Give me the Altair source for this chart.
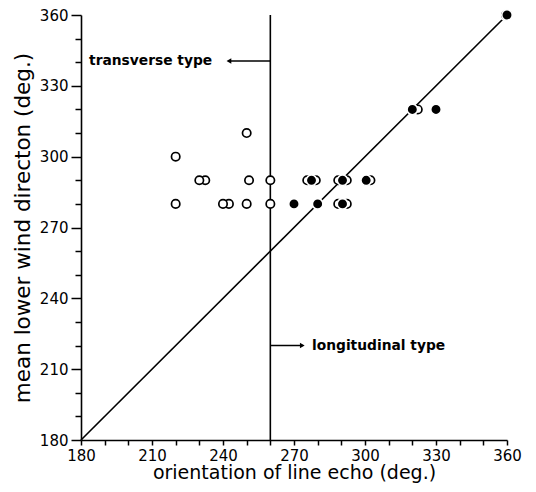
import altair as alt
import pandas as pd

# open circles (transverse type) -- back ones drawn first
open_back_x = [232.5, 242.5]
open_back_y = [290, 280]
open_x = [220, 220, 230, 240, 250, 251, 250, 260, 260]
open_y = [300, 280, 290, 280, 310, 290, 280, 290, 280]

# open outlines peeking behind filled points (overlapping cases)
flank_x = [275.6, 279.2, 288.7, 292.3, 288.7, 292.3, 302.3, 322.3]
flank_y = [290, 290, 290, 290, 280, 280, 290, 320]

# filled circles (longitudinal type)
filled_x = [270, 280, 290.5, 277.4, 290.5, 300.5, 320, 330, 359.3, 360]
filled_y = [280, 280, 280, 290, 290, 290, 320, 320, 360, 360]

ticks = list(range(180, 361, 10))
diag = [180, 360]

FONT = "DejaVu Sans"

xs = alt.Scale(domain=[180, 360], nice=False, zero=False)
ys = alt.Scale(domain=[180, 360], nice=False, zero=False)

tick_size_y = {"condition": {"test": "datum.value % 30 === 0", "value": 10}, "value": 6}

x_axis = alt.Axis(values=ticks, labelExpr="datum.value % 30 === 0 ? datum.label : ''",
                  title="orientation of line echo (deg.)", grid=False,
                  tickSize=5, tickWidth=1.5, tickColor="black",
                  domainColor="black", domainWidth=1.6,
                  labelFont=FONT, labelFontSize=15, labelColor="black", labelPadding=3,
                  labelOverlap=False,
                  titleFont=FONT, titleFontSize=19, titleFontWeight="normal", titleColor="black",
                  titlePadding=0, labelFlush=False)
y_axis = alt.Axis(values=ticks, labelExpr="datum.value % 30 === 0 ? datum.label : ''",
                  title="mean lower wind directon (deg.)", grid=False,
                  tickSize=tick_size_y, tickWidth=1.5, tickColor="black",
                  domainColor="black", domainWidth=1.6,
                  labelFont=FONT, labelFontSize=15, labelColor="black", labelPadding=3,
                  labelOverlap=False,
                  titleFont=FONT, titleFontSize=21.5, titleFontWeight="normal", titleColor="black",
                  titlePadding=5, labelFlush=False)

def X(field="x"):
    return alt.X(f"{field}:Q", scale=xs, axis=x_axis)

def Y(field="y"):
    return alt.Y(f"{field}:Q", scale=ys, axis=y_axis)

diag_df = pd.DataFrame({"x": diag, "y": diag})
base_line = alt.Chart(diag_df).mark_line(color="black", strokeWidth=1.6).encode(
    x=X(), y=Y())

vline = alt.Chart(pd.DataFrame({"x": [260], "y": [180], "y2": [360]})).mark_rule(
    color="black", strokeWidth=1.6).encode(x=X(), y=Y(), y2="y2:Q")

def circles(xv, yv, filled):
    df = pd.DataFrame({"x": xv, "y": yv})
    if filled:
        m = alt.Chart(df).mark_point(shape="circle", filled=True, fill="black",
                                     stroke="white", strokeWidth=1.6, size=110, opacity=1)
    else:
        m = alt.Chart(df).mark_point(shape="circle", filled=True, fill="white",
                                     stroke="black", strokeWidth=1.7, size=70, opacity=1)
    return m.encode(x=X(), y=Y())

ann_df = pd.DataFrame({
    "x": [183.4, 277.6],
    "y": [340.5, 220],
    "t": ["transverse type", "longitudinal type"],
})
ann = alt.Chart(ann_df).mark_text(align="left", baseline="middle", font=FONT,
                                  fontSize=13.8, fontWeight="bold", color="black").encode(
    x=X(), y=Y(), text="t:N")

arr_df = pd.DataFrame({"x": [260, 260], "x2": [242.5, 273.5], "y": [340.5, 220]})
arr_lines = alt.Chart(arr_df).mark_rule(color="black", strokeWidth=1.4).encode(
    x=X(), x2="x2:Q", y=Y())

head_df = pd.DataFrame({"x": [242.5, 273.5], "y": [340.5, 220],
                        "s": ["triangle-left", "triangle-right"]})
heads = alt.Chart(head_df).mark_point(filled=True, fill="black", size=30, opacity=1).encode(
    x=X(), y=Y(), shape=alt.Shape("s:N", scale=None, legend=None))

chart = alt.layer(
    base_line, vline,
    circles(open_back_x, open_back_y, False),
    circles(open_x, open_y, False),
    circles(flank_x, flank_y, False),
    circles(filled_x, filled_y, True),
    arr_lines, heads, ann,
).properties(
    width=426, height=425,
    autosize=alt.AutoSizeParams(type="none"),
    padding={"left": 73, "top": 7, "right": 21, "bottom": 44},
    background="white",
).configure_view(stroke=None)

chart.save("out.html", embed_options={"renderer": "svg", "actions": False})
